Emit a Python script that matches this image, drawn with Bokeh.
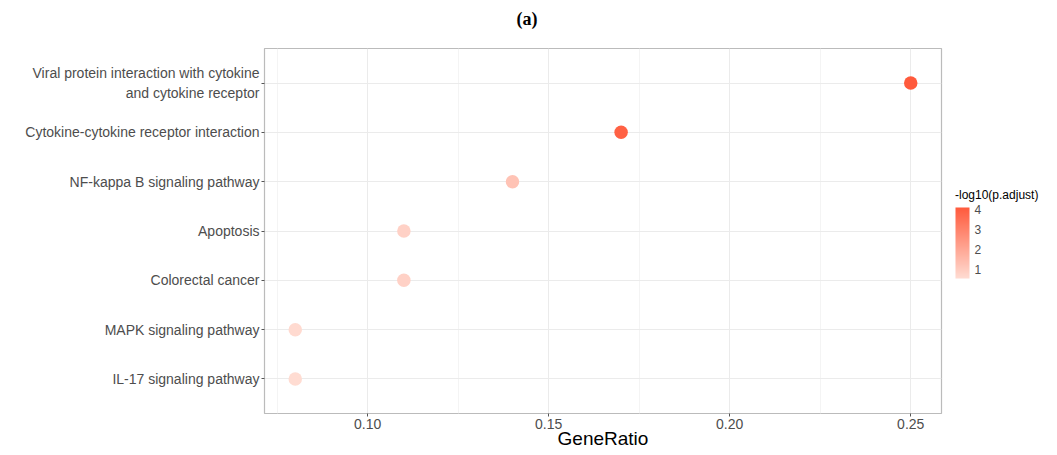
import numpy as np
from bokeh.plotting import figure
from bokeh.models import (ColumnDataSource, Range1d, FactorRange, FixedTicker,
                          NumeralTickFormatter, LinearColorMapper, ColorBar, Title,
                          Legend, LegendItem)
from bokeh.embed import file_html
from bokeh.resources import INLINE

# ---- data ----
pathways = [
    "IL-17 signaling pathway",
    "MAPK signaling pathway",
    "Colorectal cancer",
    "Apoptosis",
    "NF-kappa B signaling pathway",
    "Cytokine-cytokine receptor interaction",
    "Viral protein interaction with cytokine\nand cytokine receptor",
]
gene_ratio = [0.08, 0.08, 0.11, 0.11, 0.14, 0.17, 0.25]
neglog_padj = [0.55, 0.6, 0.85, 0.85, 1.25, 3.9, 4.1]
x_ticks = [0.10, 0.15, 0.20, 0.25]
x_minor = [0.075, 0.125, 0.175, 0.225]
cbar_ticks = [1, 2, 3, 4]

# ---- colours ----
def interp(c1, c2, n):
    a = np.array([int(c1[i:i+2], 16) for i in (1, 3, 5)], float)
    b = np.array([int(c2[i:i+2], 16) for i in (1, 3, 5)], float)
    out = []
    for t in np.linspace(0, 1, n):
        c = a + (b - a) * t
        out.append("#%02x%02x%02x" % tuple(int(round(v)) for v in c))
    return out

palette = interp("#FFDCD2", "#FF5A3C", 256)
mapper = LinearColorMapper(palette=palette, low=min(neglog_padj), high=max(neglog_padj))

src = ColumnDataSource(dict(path=pathways, x=gene_ratio, c=neglog_padj))

p = figure(frame_width=677, frame_height=365, output_backend="svg", toolbar_location=None,
           x_range=Range1d(0.0715, 0.2585),
           y_range=FactorRange(factors=pathways, range_padding=0.2, range_padding_units="absolute"),
           min_border_left=264, min_border_right=20, min_border_top=48, min_border_bottom=42)

p.scatter("x", "path", source=src, size=13.5, line_color=None,
          fill_color={"field": "c", "transform": mapper})

# spacer between frame and title, then the title itself
p.add_layout(Title(text=" ", text_font_size="1px", standoff=17), "above")
p.add_layout(Title(text="(a)", align="left", offset=252, text_font="Liberation Serif",
                   text_font_style="bold", text_font_size="18px", text_color="#000000",
                   standoff=0), "above")

# axes
p.xaxis.ticker = FixedTicker(ticks=x_ticks, minor_ticks=x_minor)
p.xaxis.formatter = NumeralTickFormatter(format="0.00")
p.xaxis.axis_label = "GeneRatio"
p.xaxis.axis_label_text_font = "Liberation Sans"
p.xaxis.axis_label_text_font_style = "normal"
p.xaxis.axis_label_text_font_size = "19px"
p.xaxis.axis_label_text_color = "#000000"
p.xaxis.axis_label_standoff = -4
for ax in (p.xaxis, p.yaxis):
    ax.axis_line_color = None
    ax.major_tick_in = 0
    ax.major_tick_out = 3
    ax.major_tick_line_color = "#555555"
    ax.minor_tick_line_color = None
    ax.major_label_text_font = "Liberation Sans"
    ax.major_label_text_font_size = "14px"
    ax.major_label_text_color = "#4D4D4D"
    ax.major_label_standoff = 2
p.xaxis.major_label_standoff = 1

# grid
p.xgrid.grid_line_color = "#EBEBEB"
p.xgrid.minor_grid_line_color = "#F4F4F4"
p.ygrid.grid_line_color = "#EBEBEB"
p.outline_line_color = "#BBBBBB"
p.outline_line_width = 1.2
p.background_fill_color = "white"

# colour bar
cb = ColorBar(color_mapper=mapper, ticker=FixedTicker(ticks=cbar_ticks), width=14, height=71,
              title=None, padding=0, margin=0, label_standoff=5,
              major_label_text_font="Liberation Sans", major_label_text_font_size="12px",
              major_label_text_color="#4D4D4D", major_tick_line_color=None,
              bar_line_color=None, background_fill_color=None, border_line_color=None,
              location=(691, 135))
p.add_layout(cb, "center")

# colour bar title (legend title used as text holder in the right panel)
dummy = p.scatter([], [], size=0, fill_alpha=0, line_alpha=0)
leg = Legend(items=[LegendItem(label=" ", renderers=[dummy])], title="-log10(p.adjust)",
             title_text_font="Liberation Sans", title_text_font_size="12px",
             title_text_font_style="normal", title_text_color="#000000",
             title_standoff=0, padding=0, margin=14, spacing=0,
             glyph_height=72, glyph_width=1, label_height=72, label_width=1,
             label_standoff=0, label_text_font_size="1px",
             border_line_color=None, background_fill_alpha=0,
             location="center_left")
p.add_layout(leg, "right")

open("out.html", "w").write(file_html(p, INLINE))
